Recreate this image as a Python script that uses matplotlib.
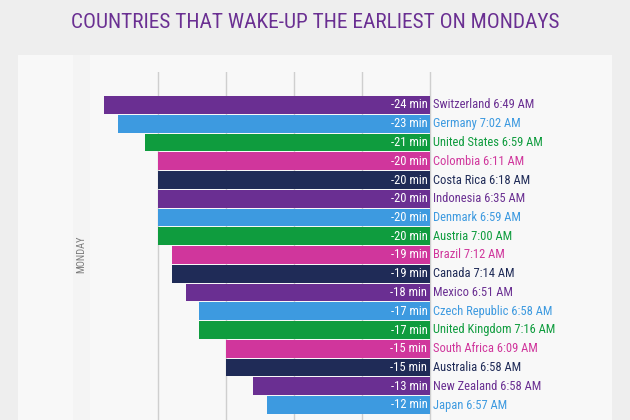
import matplotlib
matplotlib.use("Agg")
import matplotlib.pyplot as plt
from matplotlib import font_manager
from matplotlib.font_manager import FontProperties
from matplotlib.patches import Rectangle

countries = ["Switzerland", "Germany", "United States", "Colombia", "Costa Rica",
             "Indonesia", "Denmark", "Austria", "Brazil", "Canada", "Mexico",
             "Czech Republic", "United Kingdom", "South Africa", "Australia",
             "New Zealand", "Japan"]
wake_times = ["6:49 AM", "7:02 AM", "6:59 AM", "6:11 AM", "6:18 AM", "6:35 AM",
              "6:59 AM", "7:00 AM", "7:12 AM", "7:14 AM", "6:51 AM", "6:58 AM",
              "7:16 AM", "6:09 AM", "6:58 AM", "6:58 AM", "6:57 AM"]
minutes_earlier = [-24, -23, -21, -20, -20, -20, -20, -20, -19, -19, -18, -17,
                   -17, -15, -15, -13, -12]
palette = ["#6a2f92", "#3d9ae0", "#0f9c3e", "#d0369c", "#1f2b57"]
grid_ticks = [-20, -15, -10, -5, 0]

# find a condensed font file
cond_file = None
cands = []
for f in font_manager.fontManager.ttflist:
    st = str(f.stretch).lower()
    nm = f.name.lower()
    fn = f.fname.lower()
    if ("condensed" in st or "narrow" in nm or "condensed" in fn or "narrow" in fn) \
            and f.weight in (400, "normal", "regular") and f.style == "normal":
        cands.append(f)
pref = ["roboto", "open sans", "noto sans", "liberation", "lato", "dejavu sans"]
for p in pref:
    for f in cands:
        if p in f.name.lower() and "mono" not in f.name.lower():
            cond_file = f.fname
            break
    if cond_file:
        break
if cond_file is None and cands:
    cond_file = cands[0].fname


def fp(size):
    if cond_file:
        return FontProperties(fname=cond_file, size=size)
    return FontProperties(family="DejaVu Sans", size=size)


W, H = 630, 420
fig = plt.figure(figsize=(6.3, 4.2), dpi=100)
fig.patch.set_facecolor("#eeeeee")

fig.add_artist(Rectangle((18 / W, 0), (612 - 18) / W, (420 - 55) / H,
                         transform=fig.transFigure, facecolor="#f8f8f8",
                         edgecolor="none", zorder=0))
fig.add_artist(Rectangle((73 / W, 0), (90 - 73) / W, (420 - 55) / H,
                         transform=fig.transFigure, facecolor="#f4f4f4",
                         edgecolor="none", zorder=0))

fig.text(315 / W, 1 - 23 / H, "COUNTRIES THAT WAKE-UP THE EARLIEST ON MONDAYS",
         ha="center", va="center", color="#6a2f92", fontproperties=fp(15.4))

ax_left, ax_right = 18, 612
ax_top, ax_bottom = 72, 420
ax = fig.add_axes([ax_left / W, 1 - ax_bottom / H, (ax_right - ax_left) / W,
                   (ax_bottom - ax_top) / H])
ax.set_facecolor("none")
ppm = 13.58
ax.set_xlim(-(430 - ax_left) / ppm, (ax_right - 430) / ppm)
pitch = 18.75
ax.set_ylim((ax_bottom - 105) / pitch, (ax_top - 105) / pitch)

for g in grid_ticks:
    ax.axvline(g, color="#cfcfcf", lw=1.0, zorder=1)

ys = list(range(len(countries)))
colors = [palette[i % len(palette)] for i in ys]
ax.barh(ys, minutes_earlier, height=0.94, color=colors, zorder=2)

for y, v, c, name, t in zip(ys, minutes_earlier, colors, countries, wake_times):
    ax.text(-0.2, y, f"{v} min", ha="right", va="center", color="white",
            fontproperties=fp(9), zorder=3)
    ax.text(0.25, y, f"{name} {t}", ha="left", va="center", color=c,
            fontproperties=fp(9), zorder=3, clip_on=False)

for s in ax.spines.values():
    s.set_visible(False)
ax.set_xticks([])
ax.set_yticks([])

fig.text(81 / W, 1 - 254 / H, "MONDAY", rotation=90, ha="center", va="center",
         color="#7a7a7a", fontproperties=fp(7.5))

fig.savefig("out.png", dpi=100, facecolor=fig.get_facecolor())
